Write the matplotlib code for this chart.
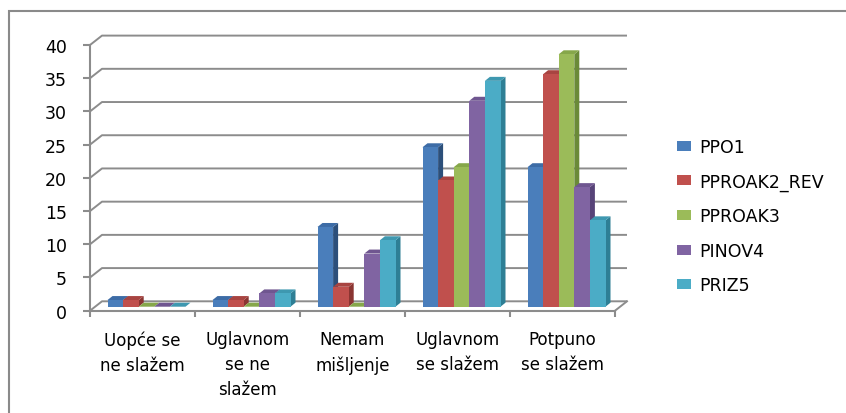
import matplotlib
matplotlib.use("Agg")
import matplotlib.pyplot as plt
from matplotlib.collections import PolyCollection
from matplotlib.patches import Rectangle, Patch
import numpy as np

# ---- data ----
categories = ["Uopće se\nne slažem", "Uglavnom\nse ne\nslažem", "Nemam\nmišljenje",
              "Uglavnom\nse slažem", "Potpuno\nse slažem"]
series_names = ["PPO1", "PPROAK2_REV", "PPROAK3", "PINOV4", "PRIZ5"]
ppo1 = [1, 1, 12, 24, 21]
pproak2_rev = [1, 1, 3, 19, 35]
pproak3 = [0, 0, 0, 21, 38]
pinov4 = [0, 2, 8, 31, 18]
priz5 = [0, 2, 10, 34, 13]
yticks = [0, 5, 10, 15, 20, 25, 30, 35, 40]

series_values = [ppo1, pproak2_rev, pproak3, pinov4, priz5]
front_colors = ["#4a7ebb", "#c0504d", "#9bbb59", "#8064a2", "#4bacc6"]
side_colors = ["#2c4f7a", "#8a3532", "#6a8a38", "#574378", "#2e7f95"]
top_colors = ["#3d6ca6", "#a84441", "#86a74a", "#6f5690", "#3e98b0"]

W, H = 846, 414
fig = plt.figure(figsize=(W / 100, H / 100), dpi=100)
plt.rcParams['font.family'] = ['DejaVu Sans']

# front plane axes: x 0..5 -> px 90..615, y 0..40 -> px 311.7..46
x0, x1, y0, y1 = 90, 615, 311.7, 46
ax = fig.add_axes([x0 / W, 1 - y0 / H, (x1 - x0) / W, (y0 - y1) / H])
ax.set_xlim(0, len(categories))
ax.set_ylim(0, 40)
ax.patch.set_visible(False)

grid_c = "#8c8c8c"
px_per_x = (x1 - x0) / len(categories)
px_per_y = (y0 - y1) / 40.0
# depth offsets (data units)
BX, BY = 12 / px_per_x, 9.4 / px_per_y      # back wall
PX, PY = 4 / px_per_x, 4 / px_per_y         # bar plane
DX, DY = 5 / px_per_x, 4 / px_per_y         # bar depth
BW = 15.6 / px_per_x                        # bar width
n = len(categories)

# back wall gridlines
for v in yticks:
    ax.plot([0, BX, n + BX], [v, v + BY, v + BY], color=grid_c, lw=1.4,
            clip_on=False, zorder=1, solid_capstyle='butt')
ax.plot([n, n + BX], [0, BY], color=grid_c, lw=1.4, clip_on=False, zorder=1)

# bars
ns = len(series_values)
for i, (vals, fc, sc, tc) in enumerate(zip(series_values, front_colors, side_colors, top_colors)):
    lefts = np.arange(n) + 0.5 - ns / 2 * BW + i * BW + PX
    sides, tops = [], []
    for l, h in zip(lefts, vals):
        r = l + BW
        sides.append([(r, PY), (r + DX, PY + DY), (r + DX, PY + h + DY), (r, PY + h)])
        tops.append([(l, PY + h), (l + DX, PY + h + DY), (r + DX, PY + h + DY), (r, PY + h)])
    ax.add_collection(PolyCollection(sides, facecolors=sc, edgecolors='none',
                                     zorder=3 + 2 * i, clip_on=False))
    ax.add_collection(PolyCollection(tops, facecolors=tc, edgecolors='none',
                                     zorder=3 + 2 * i, clip_on=False))
    ax.bar(lefts, vals, width=BW, bottom=PY, align='edge', color=fc,
           zorder=4 + 2 * i, clip_on=False, linewidth=0)

# spines / axes lines
for s in ["top", "right"]:
    ax.spines[s].set_visible(False)
for s in ["left", "bottom"]:
    ax.spines[s].set_color(grid_c)
    ax.spines[s].set_linewidth(1.5)
    ax.spines[s].set_zorder(2)

ax.set_yticks(yticks)
ax.set_yticklabels([str(v) for v in yticks])
ax.tick_params(axis='y', length=5, width=1.5, color=grid_c, pad=11.5,
               labelsize=12.5, labelcolor='black')
ax.set_xticks(np.arange(n) + 0.5)
ax.set_xticklabels(categories, linespacing=1.5)
ax.tick_params(axis='x', which='major', length=0, pad=14, labelsize=12,
               labelcolor='black')
ax.set_xticks(np.arange(n + 1), minor=True)
ax.tick_params(axis='x', which='minor', length=4, width=1.5, color=grid_c)

# legend
handles = [Patch(facecolor=c, edgecolor='none') for c in front_colors]
fig.legend(handles, series_names, loc='upper left',
           bbox_to_anchor=(677 / W, 1 - 139 / H), frameon=False,
           fontsize=12.5, handlelength=0.8, handleheight=0.5,
           handletextpad=0.5, labelspacing=0.95, borderpad=0, borderaxespad=0)

# chart area border
fig.add_artist(Rectangle((9 / W, -0.1), 2, (H - 12) / H + 0.1,
                         transform=fig.transFigure, fill=False,
                         edgecolor='#8a8a8a', lw=1.5))

fig.savefig("out.png", dpi=100)
